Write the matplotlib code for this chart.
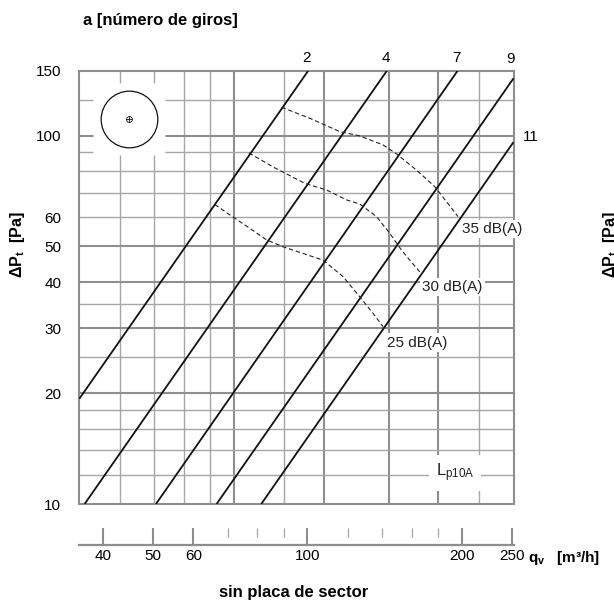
import matplotlib
matplotlib.use("Agg")
import matplotlib.pyplot as plt
from matplotlib.ticker import NullLocator

plt.rcParams["font.family"] = ["Liberation Sans", "DejaVu Sans"]
plt.rcParams["mathtext.fontset"] = "custom"
plt.rcParams["mathtext.rm"] = "Liberation Sans"
plt.rcParams["mathtext.bf"] = "Liberation Sans:bold"
plt.rcParams["mathtext.it"] = "Liberation Sans:italic"

# caudal q en l/s (eje interno), presión ΔPt en Pa
q_lim = (10, 70)
dp_lim = (10, 150)

# rectas de regulación (número de giros): puntos extremos
turns = ["2", "4", "7", "9", "11"]
turn_q = [[10.0, 27.9], [10.24, 39.7], [14.1, 54.5], [18.5, 70.0], [22.6, 70.0]]
turn_dp = [[19.3, 150], [10, 150], [10, 150], [10, 143], [10, 96]]

# curvas de nivel sonoro Lp10A
db_labels = ["25 dB(A)", "30 dB(A)", "35 dB(A)"]
db25_q = [18.36, 19.64, 21.48, 23.15, 24.93, 29.83, 32.62, 35.15, 37.31, 39.02]
db25_dp = [65.0, 60.9, 56.0, 52.1, 49.9, 45.9, 41.4, 36.5, 32.9, 30.3]
db30_q = [21.38, 24.02, 27.47, 30.27, 33.11, 35.15, 37.87, 40.20, 42.37, 43.97, 45.98]
db30_dp = [89.7, 81.7, 74.2, 71.2, 66.9, 65.2, 60.3, 54.3, 48.9, 45.9, 42.7]
db35_q = [24.75, 28.10, 32.14, 35.15, 39.02, 41.43, 45.32, 49.18, 54.59]
db35_dp = [119.4, 111.4, 102.5, 99.8, 94.3, 89.2, 80.6, 72.7, 60.3]

# retícula
grid_q = [12, 14, 16, 18, 25, 60]
grid_q_bold = [20, 30, 40, 50]
grid_dp = [12, 14, 16, 18, 25, 35, 60, 70, 80, 90, 125]
grid_dp_bold = [20, 30, 40, 50, 100]
dp_ticks = [10, 20, 30, 40, 50, 60, 100, 150]

# escala inferior en m3/h
scale_major = [40, 50, 60, 100, 200, 250]
scale_minor = [70, 80, 90, 120, 140, 160, 180]
LS_TO_M3H = 3.6

GRID = "#a6a6a6"
GRID_B = "#8e8e8e"

fig = plt.figure(figsize=(6.14, 6.06), dpi=100)
ax = fig.add_axes([79.3 / 614, 1 - 504 / 606, 434.2 / 614, 433.3 / 606])
ax.set_xscale("log")
ax.set_yscale("log")
ax.set_xlim(*q_lim)
ax.set_ylim(*dp_lim)

for q in grid_q:
    ax.axvline(q, color=GRID, lw=1.0, zorder=1)
for q in grid_q_bold:
    ax.axvline(q, color=GRID_B, lw=1.5, zorder=1)
for p in grid_dp:
    ax.axhline(p, color=GRID, lw=1.0, zorder=1)
for p in grid_dp_bold:
    ax.axhline(p, color=GRID_B, lw=1.5, zorder=1)

for s in ax.spines.values():
    s.set_color(GRID_B)
    s.set_linewidth(1.5)

ax.set_xticks([])
ax.xaxis.set_minor_locator(NullLocator())
ax.set_yticks(dp_ticks)
ax.set_yticklabels([str(v) for v in dp_ticks])
ax.yaxis.set_minor_locator(NullLocator())
ax.tick_params(axis="y", length=0, pad=13, labelsize=11)

# rectas
label_offsets = [(-1, 9), (-1, 9), (-1, 9), (-2.5, 14), (7, 4)]
for name, qs, ps, off in zip(turns, turn_q, turn_dp, label_offsets):
    ax.plot(qs, ps, color="#111111", lw=1.3, zorder=3, solid_capstyle="butt")
    ax.annotate(name, xy=(qs[-1], ps[-1]), xytext=off, textcoords="offset points",
                ha="center" if off[0] < 5 else "left", va="center",
                fontsize=11, annotation_clip=False)

# curvas dB(A)
db_q = [db25_q, db30_q, db35_q]
db_dp = [db25_dp, db30_dp, db35_dp]
db_offsets = [(2.5, -11.5), (2, -11), (3, -9)]
for lab, qs, ps, off in zip(db_labels, db_q, db_dp, db_offsets):
    ax.plot(qs, ps, color="#222222", lw=0.8, ls=(0, (4, 2.5)), zorder=3)
    ax.annotate(lab, xy=(qs[-1], ps[-1]), xytext=off, textcoords="offset points",
                ha="left", va="center", fontsize=11, color="#222222",
                annotation_clip=False, zorder=6,
                bbox=dict(boxstyle="square,pad=0.15", fc="white", ec="none"))

ax.text(0.8215, 0.0715, r"L$_{\mathregular{p10A}}$", transform=ax.transAxes,
        ha="left", va="center", fontsize=12, color="#222222", zorder=6,
        bbox=dict(boxstyle="square,pad=0.4", fc="white", ec="none"))

# símbolo (sin placa de sector)
ix, iy = 0.1152, 0.8878
ax.plot([ix], [iy], marker="s", ms=51.8, mfc="white", mec="none",
        transform=ax.transAxes, zorder=4, clip_on=False)
ax.plot([ix], [iy], marker="o", ms=40.8, mfc="white", mec="#111111", mew=0.9,
        transform=ax.transAxes, zorder=5, clip_on=False)
ax.plot([ix], [iy], marker="o", ms=4.2, mfc="none", mec="#111111", mew=0.6,
        transform=ax.transAxes, zorder=6)
ax.plot([ix], [iy], marker="+", ms=4.2, mec="#111111", mew=0.6,
        transform=ax.transAxes, zorder=6)

# escala inferior m3/h
sax = fig.add_axes([79.3 / 614, 1 - 545 / 606, 434.2 / 614, 17 / 606])
sax.set_xscale("log")
sax.set_xlim(q_lim[0] * LS_TO_M3H, q_lim[1] * LS_TO_M3H)
sax.set_ylim(0, 1)
sax.patch.set_alpha(0)
sax.vlines(scale_major, 0, 1, color=GRID_B, lw=1.5)
sax.vlines(scale_minor, 0.48, 1, color=GRID, lw=0.9)
for k, s in sax.spines.items():
    s.set_visible(k == "bottom")
sax.spines["bottom"].set_color(GRID_B)
sax.spines["bottom"].set_linewidth(1.6)
sax.set_xticks(scale_major)
sax.set_xticklabels([str(v) for v in scale_major])
sax.xaxis.set_minor_locator(NullLocator())
sax.set_yticks([])
sax.tick_params(axis="x", length=0, pad=3, labelsize=11)

# textos
fig.text(83 / 614, 1 - 20.7 / 606, "a [número de giros]", ha="left", va="center",
         fontsize=12, fontweight="bold")
ylab = r"$\mathbf{\Delta P_t}$  [Pa]"
fig.text(17.5 / 614, 1 - 245 / 606, ylab, rotation=90, ha="center", va="center",
         fontsize=11.5, fontweight="bold")
fig.text(611 / 614, 1 - 245 / 606, ylab, rotation=90, ha="center", va="center",
         fontsize=11.5, fontweight="bold")
fig.text(528 / 614, 1 - 558 / 606, r"$\mathbf{q_v}$   [m³/h]", ha="left", va="center",
         fontsize=11, fontweight="bold")
fig.text(293.5 / 614, 1 - 593 / 606, "sin placa de sector", ha="center", va="center",
         fontsize=12, fontweight="bold")

fig.savefig("out.png", dpi=100)
